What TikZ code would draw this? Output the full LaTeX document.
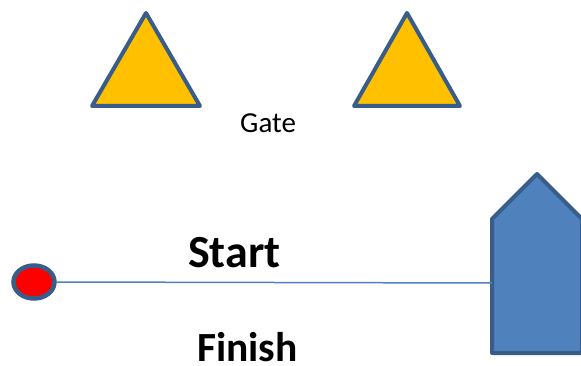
\documentclass[tikz,border=0pt]{standalone}
\usepackage{fontspec}
\setmainfont{Carlito}
\usetikzlibrary{shapes.geometric}
\definecolor{edgeblue}{RGB}{56,93,138}
\definecolor{fillblue}{RGB}{79,129,189}
\definecolor{gold}{RGB}{255,192,0}
\tikzset{
  gatebuoy/.style={draw=edgeblue, fill=gold, line width=4pt, line join=round},
  boatshape/.style={draw=edgeblue, fill=fillblue, line width=4pt, line join=round},
  pinmark/.style={ellipse, draw=edgeblue, fill=red, line width=4.5pt, minimum width=41pt, minimum height=33pt, inner sep=0pt},
  startline/.style={draw=fillblue, line width=1.5pt},
  boldtext/.style={font=\bfseries, inner sep=0pt, anchor=base west},
}
\begin{document}
\begin{tikzpicture}[x=1pt,y=-1pt]
\useasboundingbox (0,0) rectangle (581,366);
\clip (0,0) rectangle (581,366);
% gate triangles
\draw[gatebuoy] (92,106) -- (146,13) -- (200,106) -- cycle;
\draw[gatebuoy] (354,106) -- (407,13) -- (460,106) -- cycle;
\node[font=\fontsize{29}{32}\selectfont, inner sep=0pt, anchor=base west] (gate) at (240,133) {Gate};
% committee boat
\draw[boatshape] (492,353) -- (492,219) -- (537,174) -- (582,219) -- (582,353) -- cycle;
\coordinate (boatw) at (492,283);
% pin end
\node[pinmark] (pin) at (34,282) {};
\draw[startline] (pin.east) -- (boatw);
\node[boldtext, font=\fontsize{46}{50}\selectfont\bfseries] (start) at (188,267) {Start};
\node[boldtext, font=\fontsize{41.5}{46}\selectfont\bfseries] (finish) at (197,361) {Finish};
\end{tikzpicture}
\end{document}
